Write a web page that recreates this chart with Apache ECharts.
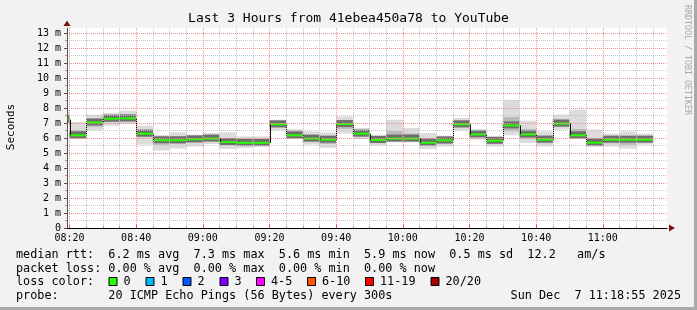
<!DOCTYPE html>
<html><head><meta charset="utf-8">
<script src="https://cdn.jsdelivr.net/npm/echarts@6/dist/echarts.min.js"></script>
<style>html,body{margin:0;padding:0;background:#f2f2f2}#c{width:697px;height:310px}</style>
</head><body><div id="c"></div>
<script>
// time in minutes since 08:00, each bin is 5 minutes (300 s)
const STEP = 5;
const binStart  = [15,20,25,30,35,40,45,50,55,60,65,70,75,80,85,90,95,100,105,110,115,120,125,130,135,140,145,150,155,160,165,170,175,180,185,190];
const median    = [7.22,6.18,7.04,7.29,7.31,6.29,5.85,5.85,5.91,5.96,5.73,5.68,5.68,6.91,6.18,5.96,5.89,6.93,6.29,5.87,5.96,5.96,5.69,5.84,6.91,6.24,5.82,6.84,6.24,5.89,6.96,6.18,5.69,5.89,5.89,5.89];
const smokeMax  = [7.78,7.07,7.56,7.67,7.82,6.82,6.22,6.38,6.22,6.33,6.38,6.11,6.11,7.22,6.60,6.44,6.38,7.44,6.67,6.22,7.22,6.67,6.33,6.16,7.33,6.60,6.07,8.53,7.16,6.44,7.56,7.89,6.56,6.29,6.44,6.29];
const smokeMin  = [7.05,5.93,6.51,6.82,6.96,5.56,5.16,5.29,5.44,5.60,5.27,5.33,5.40,6.51,5.93,5.56,5.33,6.29,5.93,5.51,5.71,5.71,5.27,5.44,6.51,5.89,5.44,6.18,5.67,5.44,6.56,5.93,5.40,5.44,5.29,5.56];
const innerHi   = [7.55,6.50,7.25,7.50,7.55,6.55,6.05,6.10,6.05,6.15,6.00,5.95,5.90,7.10,6.40,6.20,6.10,7.20,6.50,6.05,6.45,6.30,6.00,6.00,7.15,6.45,5.95,7.40,6.60,6.15,7.25,6.60,6.00,6.05,6.10,6.05];
const innerLo   = [7.15,6.00,6.75,7.05,7.05,6.05,5.55,5.60,5.70,5.80,5.55,5.50,5.55,6.70,6.00,5.75,5.60,6.60,6.10,5.65,5.80,5.80,5.50,5.60,6.70,6.05,5.60,6.45,5.95,5.65,6.75,6.00,5.50,5.65,5.55,5.70];

const xMin = 19.25, xMax = 199.25;
const xMajorTicks = [20,40,60,80,100,120,140,160,180];
const xMinorTicks = [25,30,35,45,50,55,65,70,75,85,90,95,105,110,115,125,130,135,145,150,155,165,170,175,185,190,195];
const yMax = 40/3;
const yMajorTicks = [0,1,2,3,4,5,6,7,8,9,10,11,12,13];
const yMinorTicks = [0.5,1.5,2.5,3.5,4.5,5.5,6.5,7.5,8.5,9.5,10.5,11.5,12.5];

const title = 'Last 3 Hours from 41ebea450a78 to YouTube';
const legendLines = [
  'median rtt:  6.2 ms avg  7.3 ms max  5.6 ms min  5.9 ms now  0.5 ms sd  12.2   am/s',
  'packet loss: 0.00 % avg  0.00 % max  0.00 % min  0.00 % now',
  'loss color:',
  'probe:       20 ICMP Echo Pings (56 Bytes) every 300s'
];
const lossLabels = ['0','1','2','3','4-5','6-10','11-19','20/20'];
const lossColors = ['#26ff00','#00b8ff','#0059ff','#7e00ff','#ff00ff','#ff5500','#ff0000','#a00000'];
const lossBoxX = [108.5,145.5,182.5,219.5,256,307,365,430.5];
const dateText = 'Sun Dec  7 11:18:55 2025';

const MONO = "'DejaVu Sans Mono', monospace";
const data = binStart.map((t,i)=>[t, median[i], smokeMin[i], smokeMax[i], innerLo[i], innerHi[i]]);

function fmtTime(v){
  const h = 8 + Math.floor(v/60), m = Math.round(v%60);
  return (h<10?'0':'')+h+':'+(m<10?'0':'')+m;
}

const chart = echarts.init(document.getElementById('c'), null, {renderer:'canvas'});

function renderItem(params, api){
  const i = params.dataIndex;
  const t = api.value(0), med = api.value(1), lo = api.value(2), hi = api.value(3), q1 = api.value(4), q3 = api.value(5);
  const cs = params.coordSys;
  const clip = {x: cs.x, y: cs.y, width: cs.width, height: cs.height};
  const x0 = api.coord([t, 0])[0], x1 = api.coord([t+STEP, 0])[0];
  const yHi = api.coord([t, hi])[1], yLo = api.coord([t, lo])[1];
  const yQ3 = api.coord([t, q3])[1], yQ1 = api.coord([t, q1])[1];
  const yM = api.coord([t, med])[1];
  const kids = [];
  function rect(ya, yb, fill){
    const r = echarts.graphic.clipRectByRect({x:x0, y:Math.min(ya,yb), width:x1-x0, height:Math.abs(yb-ya)}, clip);
    if (r) kids.push({type:'rect', shape:r, style:{fill:fill}});
  }
  rect(yHi, yLo, '#dcdcdc');
  rect(yQ3, yQ1, '#b9b9b9');
  rect(yM-4, yM+3, '#6e6e6e');
  rect(yM-1, yM+1, '#26ff00');
  if (i > 0 && x0 >= cs.x) {
    const yPrev = api.coord([t, median[i-1]])[1];
    kids.push({type:'line', shape:{x1:Math.round(x0)+0.5, y1:yPrev, x2:Math.round(x0)+0.5, y2:yM}, style:{stroke:'#111', lineWidth:1}});
  }
  return {type:'group', children:kids};
}

const axisFont = {fontFamily: MONO, fontSize: 10, color: '#000'};

const graphics = [
  {type:'text', x:348.5, y:19, style:{text:title, font:'13px '+MONO, fill:'#000', align:'center', verticalAlign:'middle'}},
  {type:'text', x:11, y:127, rotation:Math.PI/2, style:{text:'Seconds', font:'11px '+MONO, fill:'#000', align:'center', verticalAlign:'middle'}},
  {type:'text', x:687.5, y:60, rotation:-Math.PI/2, style:{text:'RRDTOOL / TOBI OETIKER', font:'8.3px '+MONO, fill:'#a8a8a8', align:'center', verticalAlign:'middle'}},
  {type:'rect', shape:{x:694, y:0, width:3, height:310}, style:{fill:'#a9a9a9'}},
  {type:'rect', shape:{x:0, y:307, width:697, height:3}, style:{fill:'#a9a9a9'}},
  {type:'polygon', shape:{points:[[669,224.5],[675,228],[669,231.5]]}, style:{fill:'#801010'}},
  {type:'polygon', shape:{points:[[63.5,26],[67,20.5],[70.5,26]]}, style:{fill:'#801010'}}
];
const lineY = [255, 268.5, 282, 296];
legendLines.forEach((s,k)=>{
  graphics.push({type:'text', x:16, y:lineY[k], style:{text:s, font:'11.8px '+MONO, fill:'#000', align:'left', verticalAlign:'middle'}});
});
lossLabels.forEach((lab,k)=>{
  graphics.push({type:'rect', shape:{x:lossBoxX[k]+0.5, y:277.5, width:8, height:8}, style:{fill:lossColors[k], stroke:'#000', lineWidth:1}});
  graphics.push({type:'text', x:lossBoxX[k]+15, y:lineY[2], style:{text:lab, font:'11.8px '+MONO, fill:'#000', align:'left', verticalAlign:'middle'}});
});
graphics.push({type:'text', x:681, y:lineY[3], style:{text:dateText, font:'11.8px '+MONO, fill:'#000', align:'right', verticalAlign:'middle'}});

const pink = '#f08c8c', grey = '#c4c4c4';
chart.setOption({
  animation:false,
  backgroundColor:'#f2f2f2',
  grid:{left:67, right:30, top:28, bottom:82, show:true, backgroundColor:'#ffffff', borderWidth:0},
  xAxis:[
    {type:'value', min:xMin, max:xMax, position:'bottom', z:5,
     axisLine:{show:true, lineStyle:{color:'#000', width:1}},
     axisTick:{show:true, inside:true, length:3, customValues:xMajorTicks, lineStyle:{color:'#e05050'}},
     axisLabel:{show:true, customValues:xMajorTicks, formatter:fmtTime, margin:5, fontFamily:MONO, fontSize:10, color:'#000'},
     splitLine:{show:true, lineStyle:{color:pink, type:[1,1], width:1}}},
    {type:'value', min:xMin, max:xMax, position:'bottom', z:4,
     axisLine:{show:false},
     axisTick:{show:true, inside:true, length:2, customValues:xMinorTicks, lineStyle:{color:'#999'}},
     axisLabel:{show:false},
     splitLine:{show:true, lineStyle:{color:grey, type:[1,1], width:1}}}
  ],
  yAxis:[
    {type:'value', min:0, max:yMax, position:'left', z:5,
     axisLine:{show:true, lineStyle:{color:'#555', width:1}},
     axisTick:{show:true, length:3, customValues:yMajorTicks, lineStyle:{color:'#555'}},
     axisLabel:{show:true, customValues:yMajorTicks, margin:6, fontFamily:MONO, fontSize:10, color:'#000',
       formatter:v=> v===0 ? '0' : (v+' m')},
     splitLine:{show:true, lineStyle:{color:pink, type:[1,1], width:1}}},
    {type:'value', min:0, max:yMax, position:'left', z:4,
     axisLine:{show:false},
     axisTick:{show:true, length:2, customValues:yMinorTicks, lineStyle:{color:'#999'}},
     axisLabel:{show:false},
     splitLine:{show:true, lineStyle:{color:grey, type:[1,1], width:1}}}
  ],
  series:[{type:'custom', xAxisIndex:0, yAxisIndex:0, z:2, data:data, renderItem:renderItem,
           encode:{x:0, y:[1,2,3]}}],
  graphic:graphics
});
</script>
</body></html>
